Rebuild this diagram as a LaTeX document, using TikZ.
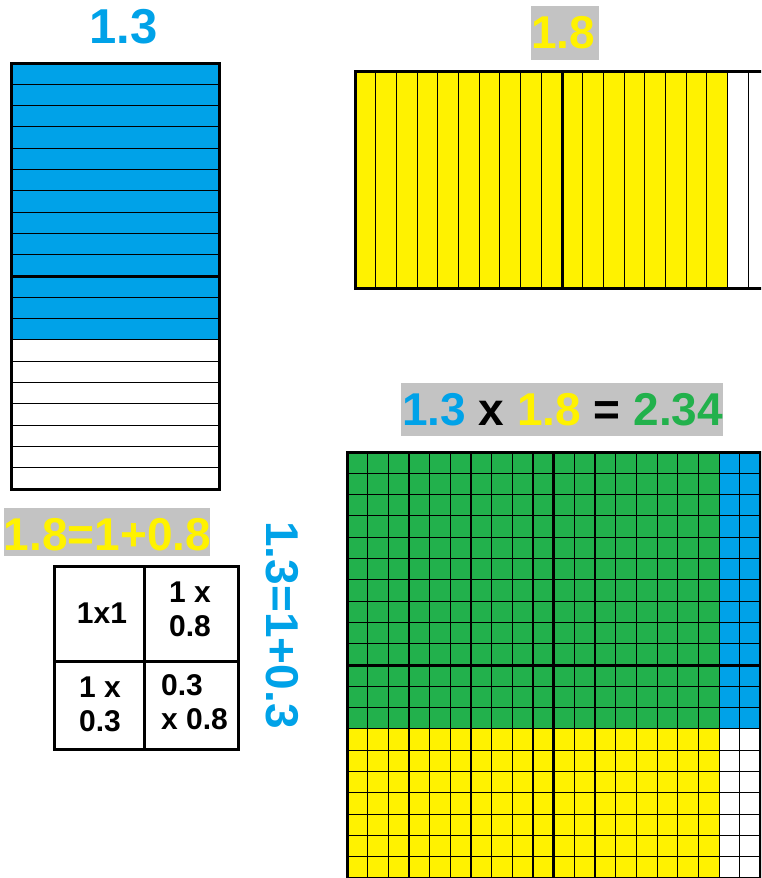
\documentclass[tikz,border=0pt]{standalone}
\usepackage{fontspec}
\setmainfont{Liberation Sans}
\definecolor{pblue}{RGB}{0,162,232}
\definecolor{pyellow}{RGB}{255,242,0}
\definecolor{pgreen}{RGB}{34,177,76}
\definecolor{pgray}{RGB}{195,195,195}
\begin{document}
\begin{tikzpicture}[x=1pt,y=-1pt,
  thinline/.style={line width=1.1pt},
  thickline/.style={line width=3pt},
  bigtext/.style={font=\fontsize{46}{50}\selectfont\bfseries, inner sep=0pt, anchor=base},
  celltext/.style={font=\fontsize{30}{34}\selectfont\bfseries, inner sep=0pt, align=center},
  graybox/.style={fill=pgray}
]
\useasboundingbox (0,0) rectangle (761,878);
\clip (0,0) rectangle (761,878);

% ---------- blue bar (1.3) ----------
\fill[pblue] (11,63) rectangle (219,340);
\foreach \i in {1,...,19} \draw[thinline] (11,{63+\i*21.3}) -- (219,{63+\i*21.3});
\draw[thickline] (11,276) -- (219,276);
\draw[thickline] (11,63) rectangle (219,489);
\node[bigtext, font=\fontsize{49}{52}\selectfont\bfseries, text=pblue] (t13) at (123.5,43) {1.3};

% ---------- yellow bar (1.8) ----------
\fill[pyellow] (355,71) rectangle (727.6,288);
\foreach \j in {1,...,19} \draw[thinline] ({355+\j*20.7},71) -- ({355+\j*20.7},288);
\draw[thickline] (562,71) -- (562,288);
\draw[thickline] (355,71) rectangle (769,288);
\fill[graybox] (531,6) rectangle (599,60);
\node[bigtext, text=pyellow] (t18) at (563,48) {1.8};

% ---------- product label ----------
\fill[graybox] (401,383) rectangle (723,436);
\node[bigtext] (tprod) at (562.5,425) {\textcolor{pblue}{1.3} x \textcolor{pyellow}{1.8} = \textcolor{pgreen}{2.34}};

% ---------- big grid ----------
\fill[pgreen] (347,452) rectangle (719.06,728.9);
\fill[pblue] (719.06,452) rectangle (761,728.9);
\fill[pyellow] (347,728.9) rectangle (719.06,878);
\foreach \j in {1,...,19} \draw[thinline] ({347+\j*20.67},452) -- ({347+\j*20.67},878);
\foreach \i in {1,...,19} \draw[thinline] (347,{452+\i*21.3}) -- (760.4,{452+\i*21.3});
\draw[thickline] (553.7,452) -- (553.7,878);
\draw[thickline] (347,665) -- (760.4,665);
\draw[thickline] (347,452) rectangle (760.4,878);

% ---------- decomposition ----------
\fill[graybox] (4,508) rectangle (210,556);
\node[bigtext, text=pyellow] (tdec18) at (107.5,550) {1.8=1+0.8};
\node[bigtext, anchor=center, rotate=-90, text=pblue] (tdec13) at (282.5,625) {1.3=1+0.3};

\draw[thickline] (54,566) rectangle (238,749);
\draw[thickline] (144,566) -- (144,751);
\draw[thickline] (54,661) -- (240,661);
\node[celltext, anchor=base] (c11) at (102,623) {1x1};
\node[celltext] (c12) at (190,609.5) {1 x\\0.8};
\node[celltext] (c21) at (100,704.5) {1 x\\0.3};
\node[celltext, align=left, anchor=west] (c22) at (161,702.5) {0.3\\x 0.8};
\end{tikzpicture}
\end{document}
